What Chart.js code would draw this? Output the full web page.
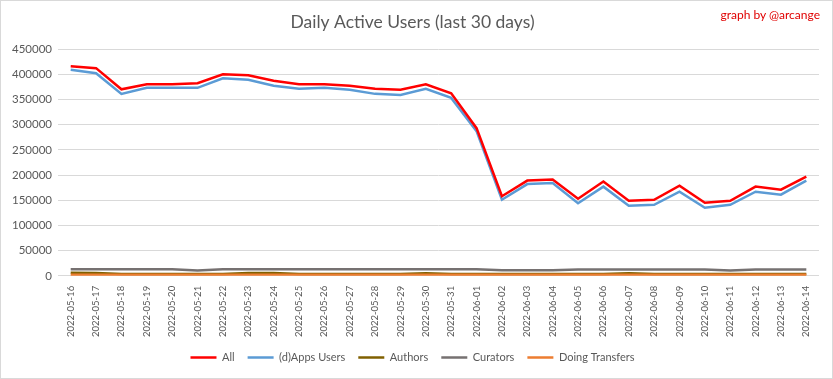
<!DOCTYPE html>
<html lang="en">
  <head>
    <meta charset="UTF-8" />
    <title>Daily Active Users (last 30 days)</title>
    <script src="https://cdn.jsdelivr.net/npm/chart.js"></script>
    <style>
      body {
        margin: 0;
        background: #fff;
        font-family: Lato, sans-serif;
      }

      .frame {
        position: relative;
        width: 833px;
        height: 379px;
        box-sizing: border-box;
        border: 1px solid #d9d9d9;
      }

      .chart-container {
        position: absolute;
        left: 0;
        top: 0;
        width: 831px;
        height: 377px;
      }

      .credit {
        position: absolute;
        right: 12px;
        top: 6px;
        color: #e00000;
        font-size: 12px;
      }
    </style>
  </head>
  <body>
    <div class="frame">
      <div class="chart-container">
        <canvas id="dauChart"></canvas>
      </div>
      <div class="credit">graph by @arcange</div>
    </div>

    <script>
      const dates = [
        "2022-05-16", "2022-05-17", "2022-05-18", "2022-05-19", "2022-05-20",
        "2022-05-21", "2022-05-22", "2022-05-23", "2022-05-24", "2022-05-25",
        "2022-05-26", "2022-05-27", "2022-05-28", "2022-05-29", "2022-05-30",
        "2022-05-31", "2022-06-01", "2022-06-02", "2022-06-03", "2022-06-04",
        "2022-06-05", "2022-06-06", "2022-06-07", "2022-06-08", "2022-06-09",
        "2022-06-10", "2022-06-11", "2022-06-12", "2022-06-13", "2022-06-14",
      ];

      const allUsers = [
        416000, 412000, 370000, 380000, 380000, 382000, 400000, 398000, 387000, 380000,
        380000, 377000, 371000, 369000, 380000, 362000, 293000, 158000, 189000, 191000,
        153000, 187000, 149000, 151000, 179000, 145000, 149000, 177000, 171000, 197000,
      ];
      const appsUsers = [
        409000, 402000, 361000, 373000, 373000, 373000, 392000, 389000, 377000, 371000,
        373000, 369000, 361000, 359000, 371000, 353000, 287000, 151000, 182000, 184000,
        144000, 177000, 139000, 141000, 167000, 135000, 141000, 167000, 161000, 189000,
      ];
      const authors = [
        6000, 5500, 3500, 3500, 3500, 3500, 3500, 5500, 5500, 3500,
        3500, 3500, 3500, 3500, 5000, 3500, 3500, 3500, 3500, 3500,
        3500, 3500, 5000, 3500, 3500, 3500, 3500, 3500, 3500, 3500,
      ];
      const curators = [
        13000, 13000, 13000, 13000, 13000, 10500, 13000, 13000, 13000, 13000,
        13000, 13000, 13000, 13000, 13000, 13000, 13000, 11000, 11000, 11000,
        12500, 12500, 12500, 12500, 12500, 12500, 10500, 12500, 12500, 12500,
      ];
      const transfers = [
        2000, 2000, 2000, 2000, 2000, 2000, 2000, 2000, 2000, 2000,
        2000, 2000, 2000, 2000, 2000, 2000, 2000, 2000, 2000, 2000,
        2000, 2000, 2000, 2000, 2000, 2000, 2000, 2000, 2000, 2000,
      ];

      const textColor = "#595959";
      const gridColor = "#d9d9d9";

      // excel draws the last series on top, so higher order = drawn first
      function series(label, values, color, order) {
        return {
          label: label,
          data: values,
          borderColor: color,
          backgroundColor: color,
          borderWidth: 2.5,
          pointRadius: 0,
          tension: 0,
          order: order,
        };
      }

      const ctx = document.getElementById("dauChart").getContext("2d");

      const dauChart = new Chart(ctx, {
        type: "line",
        data: {
          labels: dates,
          datasets: [
            series("All", allUsers, "#ff0000", 1),
            series("(d)Apps Users", appsUsers, "#5b9bd5", 2),
            series("Authors", authors, "#806000", 5),
            series("Curators", curators, "#767171", 4),
            series("Doing Transfers", transfers, "#ed7d31", 3),
          ],
        },
        options: {
          responsive: true,
          maintainAspectRatio: false,
          animation: false,
          layout: {
            padding: { left: 5, right: 13, top: 0, bottom: 5 },
          },
          plugins: {
            title: {
              display: true,
              text: "Daily Active Users (last 30 days)",
              color: textColor,
              font: { family: "Lato", size: 17.5, weight: "normal" },
              padding: { top: 11, bottom: 16 },
            },
            legend: {
              position: "bottom",
              labels: {
                color: textColor,
                font: { family: "Lato", size: 11 },
                usePointStyle: true,
                pointStyle: "line",
                pointStyleWidth: 26,
                padding: 13,
                sort: (a, b) => a.datasetIndex - b.datasetIndex,
              },
            },
            tooltip: { enabled: false },
          },
          scales: {
            x: {
              offset: true,
              grid: { display: false },
              border: { display: false },
              ticks: {
                color: textColor,
                font: { family: "Lato", size: 9.5 },
                minRotation: 90,
                maxRotation: 90,
                autoSkip: false,
                padding: 2,
              },
            },
            y: {
              min: 0,
              max: 450000,
              border: { display: false },
              grid: { color: gridColor, drawTicks: false },
              ticks: {
                stepSize: 50000,
                color: textColor,
                font: { family: "Lato", size: 11.5 },
                padding: 6,
                callback: (v) => v,
              },
            },
          },
        },
      });
    </script>
  </body>
</html>
